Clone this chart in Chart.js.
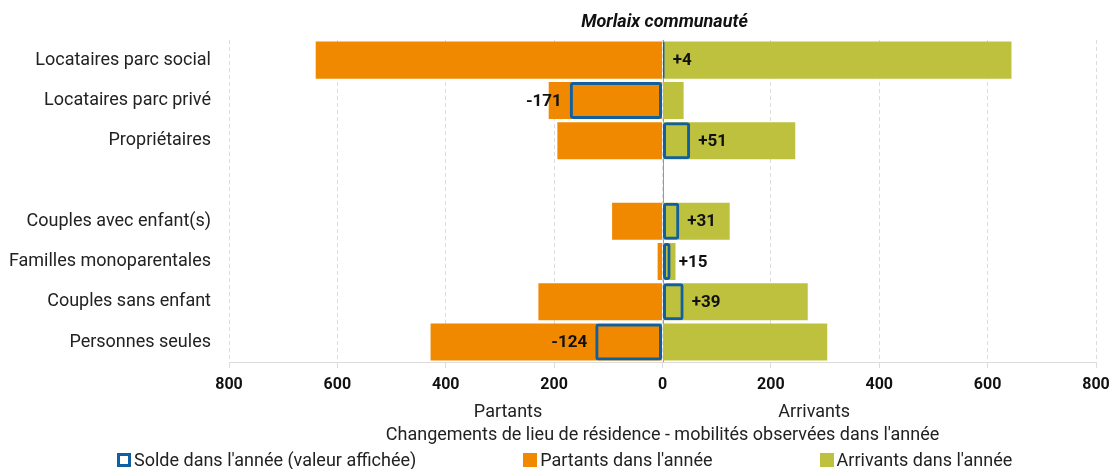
<!DOCTYPE html>
<html lang="fr">
<head>
<meta charset="utf-8">
<script src="https://cdn.jsdelivr.net/npm/chart.js@4"></script>
<style>
  html, body { margin:0; padding:0; background:#fff; }
  body { width:1110px; height:469px; position:relative; overflow:hidden; font-family:Roboto, sans-serif; }
  #wrap { position:absolute; left:0; top:0; width:1110px; height:469px; }
  #legend { position:absolute; left:117px; top:449px; display:flex; gap:107px; font-size:18px; line-height:22px; color:#222; white-space:nowrap; }
  #legend .item { display:flex; align-items:center; }
  #legend .box { width:14px; height:14px; box-sizing:border-box; margin-right:3px; }
</style>
</head>
<body>
<div id="wrap"><canvas id="chart" width="1110" height="469"></canvas></div>
<div id="legend"></div>
<script>
/* Mobilités résidentielles - Morlaix communauté */

// categories (the empty one is the gap between the two groups)
const categories = [
  'Locataires parc social', 'Locataires parc privé', 'Propriétaires', '',
  'Couples avec enfant(s)', 'Familles monoparentales', 'Couples sans enfant', 'Personnes seules'
];
// partants are plotted on the negative side
const partants  = [-640, -210, -194, null, -93, -9, -229, -428];
const arrivants = [644, 39, 245, null, 124, 24, 268, 304];
const solde     = [4, -171, 51, null, 31, 15, 39, -124];

const xTicks = [-800, -600, -400, -200, 0, 200, 400, 600, 800];

const COL_SOLDE = '#115f9f';
const COL_PART = '#f08800';
const COL_ARR = '#bdc13e';

const fmtSigned = v => (v > 0 ? '+' : '') + v;

// title, zero line, value labels next to the solde boxes, Partants / Arrivants
const extras = {
  id:'extras',
  beforeDatasetsDraw(chart){
    const {ctx, chartArea:a, scales:{x}} = chart;
    const x0 = Math.round(x.getPixelForValue(0)) + 0.5;
    ctx.save();
    ctx.strokeStyle = '#9a9a9a';
    ctx.lineWidth = 1;
    ctx.beginPath(); ctx.moveTo(x0, a.top); ctx.lineTo(x0, a.bottom); ctx.stroke();
    ctx.restore();
  },
  afterDatasetsDraw(chart){
    const {ctx, chartArea:a, scales:{x}} = chart;
    const meta = chart.getDatasetMeta(0);
    ctx.save();
    ctx.textBaseline = 'middle';
    ctx.fillStyle = '#111';
    ctx.textAlign = 'center';
    ctx.font = 'italic bold 18px Roboto';
    ctx.fillText('Morlaix communauté', (a.left + a.right) / 2 + 2, 22);

    ctx.font = 'bold 17px Roboto';
    meta.data.forEach((bar, i) => {
      const v = solde[i];
      if (v == null) return;
      if (v >= 0){ ctx.textAlign = 'left'; ctx.fillText(fmtSigned(v), bar.x + 8, bar.y + 1); }
      else { ctx.textAlign = 'right'; ctx.fillText(fmtSigned(v), bar.x - 8, bar.y + 1); }
    });
    ctx.font = '18px Roboto';
    ctx.fillStyle = '#222';
    ctx.textAlign = 'center';
    const y = x.bottom - 34;
    ctx.fillText('Partants', x.getPixelForValue(-285), y);
    ctx.fillText('Arrivants', x.getPixelForValue(280), y);
    ctx.restore();
  }
};

const chart = new Chart(document.getElementById('chart'), {
  type:'bar',
  data:{
    labels: categories,
    datasets:[
      {label:"Solde dans l'année (valeur affichée)", data:solde, backgroundColor:'rgba(0,0,0,0)',
       borderColor:COL_SOLDE, borderWidth:3, borderSkipped:false, borderRadius:3, grouped:false},
      {label:"Partants dans l'année", data:partants, backgroundColor:COL_PART, grouped:false},
      {label:"Arrivants dans l'année", data:arrivants, backgroundColor:COL_ARR, grouped:false}
    ]
  },
  options:{
    indexAxis:'y',
    responsive:false,
    animation:false,
    barPercentage:0.92,
    categoryPercentage:1,
    layout:{padding:{left:0, right:14, top:40, bottom:23}},
    plugins:{
      legend:{display:false},
      tooltip:{enabled:false},
      title:{display:false}
    },
    scales:{
      x:{
        min:-800, max:800,
        afterBuildTicks: s => { s.ticks = xTicks.map(v => ({value:v})); },
        afterFit: s => { s.paddingRight = 0; s.paddingLeft = 0; },
        ticks:{color:'#111', font:{family:'Roboto', size:16, weight:'bold'}, padding:7,
          callback: v => String(Math.abs(v))},
        grid:{color:'#dcdcdc', lineWidth:1, tickLength:6, tickColor:'#dcdcdc'},
        border:{display:true, color:'#dcdcdc', dash:[4,3]},
        title:{display:true, text:"Changements de lieu de résidence - mobilités observées dans l'année",
          color:'#222', font:{family:'Roboto', size:18}, padding:{top:23, bottom:0}}
      },
      y:{
        afterFit: s => { s.width = 229; },
        ticks:{color:'#222', font:{family:'Roboto', size:18}, padding:10},
        grid:{display:false},
        border:{display:false}
      }
    }
  },
  plugins:[extras]
});

// legend built from the datasets
const legendEl = document.getElementById('legend');
chart.data.datasets.forEach(ds => {
  const item = document.createElement('div');
  item.className = 'item';
  const box = document.createElement('span');
  box.className = 'box';
  if (ds.borderWidth) { box.style.border = '3px solid ' + ds.borderColor; box.style.background = '#fff'; }
  else box.style.background = ds.backgroundColor;
  item.appendChild(box);
  item.appendChild(document.createTextNode(ds.label));
  legendEl.appendChild(item);
});
</script>
</body>
</html>
